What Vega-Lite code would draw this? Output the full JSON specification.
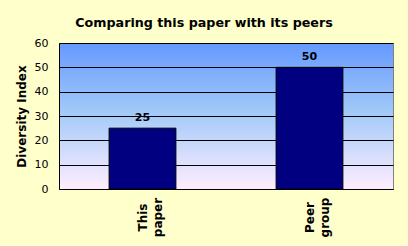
{
  "$schema": "https://vega.github.io/schema/vega-lite/v6.json",
  "width": 334,
  "height": 146,
  "autosize": {"type": "none"},
  "padding": {"left": 59, "top": 43, "right": 15, "bottom": 57},
  "background": "#FFFFCC",
  "title": {
    "text": "Comparing this paper with its peers",
    "font": "DejaVu Sans",
    "fontSize": 12.7,
    "fontWeight": "bold",
    "color": "black",
    "anchor": "middle",
    "dx": -22,
    "offset": 7
  },
  "data": {
    "values": [
      {"category": "This paper", "value": 25},
      {"category": "Peer group", "value": 50}
    ]
  },
  "encoding": {
    "x": {
      "field": "category",
      "type": "nominal",
      "sort": null,
      "scale": {"paddingInner": 0.6, "paddingOuter": 0.3},
      "axis": {
        "title": null,
        "labelAngle": 270,
        "labelExpr": "split(datum.label, ' ')",
        "labelAlign": "center",
        "labelBaseline": "middle",
        "labelPadding": 28,
        "labelFont": "DejaVu Sans",
        "labelFontSize": 12,
        "labelFontWeight": "bold",
        "labelColor": "black",
        "labelLineHeight": 15,
        "ticks": false,
        "domainColor": "black",
        "domainWidth": 1
      }
    },
    "y": {
      "field": "value",
      "type": "quantitative",
      "scale": {"domain": [0, 60], "nice": false},
      "axis": {
        "values": [0, 10, 20, 30, 40, 50, 60],
        "title": "Diversity Index",
        "titleFont": "DejaVu Sans",
        "titleFontSize": 12,
        "titleFontWeight": "bold",
        "titleColor": "black",
        "titlePadding": 6,
        "labelFont": "DejaVu Sans",
        "labelFontSize": 11,
        "labelColor": "black",
        "labelPadding": 11,
        "ticks": false,
        "domainColor": "black",
        "gridColor": "black",
        "gridOpacity": 1,
        "gridWidth": 1
      }
    }
  },
  "layer": [
    {
      "mark": {"type": "bar", "color": "#000080", "stroke": "black", "strokeWidth": 1}
    },
    {
      "mark": {
        "type": "text",
        "font": "DejaVu Sans",
        "fontSize": 11,
        "fontWeight": "bold",
        "color": "black",
        "baseline": "alphabetic",
        "dy": -7
      },
      "encoding": {"text": {"field": "value", "type": "quantitative"}}
    }
  ],
  "config": {
    "view": {
      "fill": {
        "gradient": "linear",
        "x1": 0, "y1": 0, "x2": 0, "y2": 1,
        "stops": [
          {"offset": 0, "color": "#6699ff"},
          {"offset": 0.45, "color": "#9fc8f8"},
          {"offset": 1, "color": "#ffeeff"}
        ]
      },
      "stroke": "#808080"
    }
  }
}
